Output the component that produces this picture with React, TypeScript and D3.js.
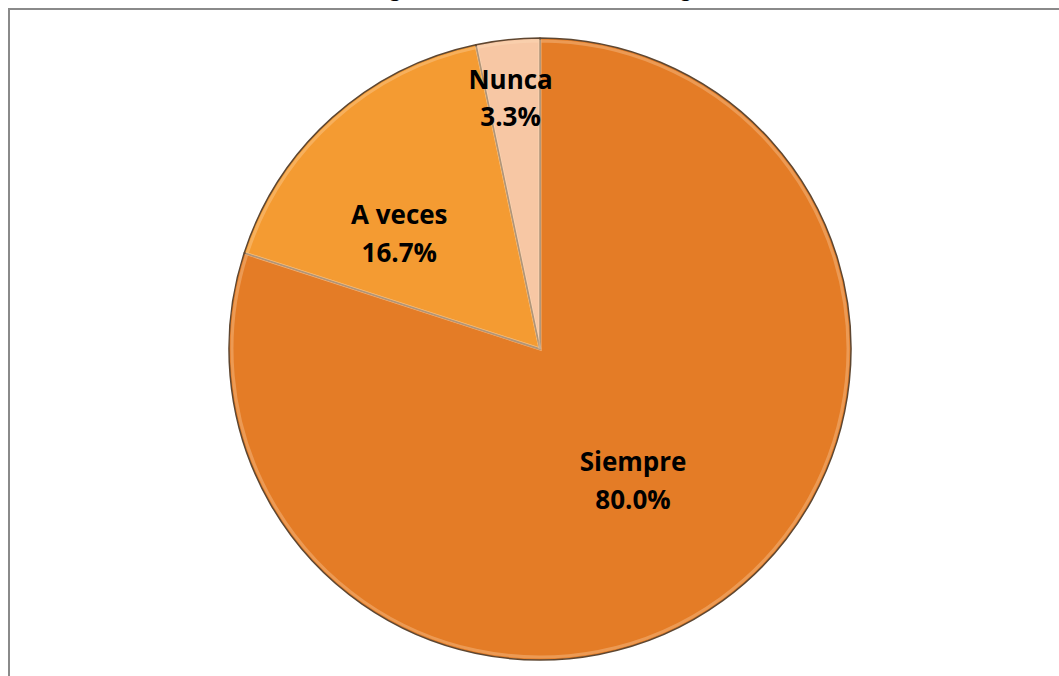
import React, { useEffect, useRef } from 'react';
import * as d3 from 'd3';

// datos del grafico
const categories = ['Siempre', 'A veces', 'Nunca'];
const percents = [80.0, 16.7, 3.3];
const sliceColors = ['#e47c26', '#f49b32', '#f7c7a4'];
const sliceColorsDark = ['#c0611d', '#e5862a', '#f0b68e'];
const titleBold = 'Figura 9.';
const titleRest = ' Nivel de las estrategias';

const W = 1059;
const H = 676;

const App = () => {
  const svgRef = useRef<SVGSVGElement>(null);

  useEffect(() => {
    const svg = d3.select(svgRef.current);
    svg.selectAll('*').remove();

    const cx = 540;
    const cy = 349;
    const R = 311;

    // titre coupé en haut
    const title = svg.append('text')
      .attr('x', 369)
      .attr('y', -3)
      .attr('font-family', 'Lato, "Open Sans", sans-serif')
      .attr('font-size', 24)
      .attr('fill', '#000');
    title.append('tspan').attr('font-weight', 'bold').text(titleBold);
    title.append('tspan').attr('dx', 12).text(titleRest);

    // cadre
    svg.append('rect')
      .attr('x', 9)
      .attr('y', 9)
      .attr('width', W + 40)
      .attr('height', H + 40)
      .attr('fill', '#fff')
      .attr('stroke', '#8a8a8a')
      .attr('stroke-width', 2);

    const defs = svg.append('defs');
    categories.forEach((c, i) => {
      const g = defs.append('linearGradient')
        .attr('id', 'grad' + i)
        .attr('gradientUnits', 'userSpaceOnUse')
        .attr('x1', 0).attr('y1', cy - R)
        .attr('x2', 0).attr('y2', cy + R);
      g.append('stop').attr('offset', '0%').attr('stop-color', sliceColors[i]);
      g.append('stop').attr('offset', '55%').attr('stop-color', sliceColors[i]);
      g.append('stop').attr('offset', '100%').attr('stop-color', sliceColorsDark[i]);
    });

    const pie = d3.pie<number>().value(d => d).sort(null);
    const arcs = pie(percents);
    const arc = d3.arc<d3.PieArcDatum<number>>().innerRadius(0).outerRadius(R);
    const arcInner = d3.arc<d3.PieArcDatum<number>>().innerRadius(0).outerRadius(R - 3);

    const g = svg.append('g').attr('transform', `translate(${cx},${cy})`);

    g.selectAll('path.slice')
      .data(arcs)
      .enter()
      .append('path')
      .attr('class', 'slice')
      .attr('d', arc)
      .attr('fill', (d, i) => `url(#grad${i})`)
      .attr('stroke', '#5e4630')
      .attr('stroke-width', 1.5)
      .attr('stroke-linejoin', 'round');

    // petit effet biseau
    g.selectAll('path.bevel')
      .data(arcs)
      .enter()
      .append('path')
      .attr('class', 'bevel')
      .attr('d', arcInner)
      .attr('fill', 'none')
      .attr('stroke', '#ffe2c0')
      .attr('stroke-opacity', 0.3)
      .attr('stroke-width', 3);

    // etiquettes
    const labelRadius = [0.52, 0.6, 0.82];
    const labelShift = [[-2, -3], [-16, 20], [-3, -1]];
    arcs.forEach((d, i) => {
      const a = (d.startAngle + d.endAngle) / 2;
      const r = R * labelRadius[i];
      const x = Math.sin(a) * r + labelShift[i][0];
      const y = -Math.cos(a) * r + labelShift[i][1];
      const t = g.append('text')
        .attr('x', x)
        .attr('y', y)
        .attr('text-anchor', 'middle')
        .attr('font-family', '"Open Sans", Lato, sans-serif')
        .attr('font-weight', 'bold')
        .attr('font-size', 26)
        .attr('fill', '#000');
      t.append('tspan').attr('x', x).attr('dy', '-0.22em').text(categories[i]);
      t.append('tspan').attr('x', x).attr('dy', '1.44em').text(d3.format('.1f')(percents[i]) + '%');
    });
  }, []);

  return (
    <svg
      ref={svgRef}
      width={W}
      height={H}
      style={{ position: 'fixed', left: 0, top: 0, background: '#fff', overflow: 'hidden' }}
    ></svg>
  );
};

export default App;
